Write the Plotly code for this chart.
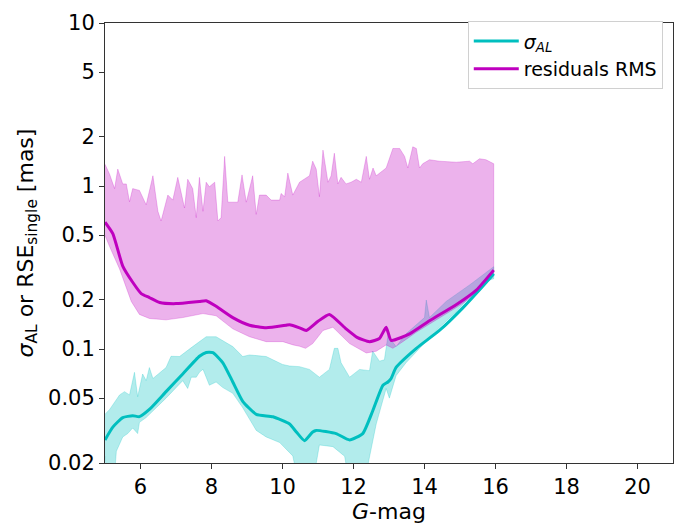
import plotly.graph_objects as go
import numpy as np

# residuals RMS (magenta) median line
res_x = [5.0, 5.22, 5.5, 5.78, 6.02, 6.25, 6.54, 7.0, 7.66, 7.85, 8.13, 8.6, 9.07, 9.54, 10.1, 10.2,
         10.48, 10.67, 11.0, 11.32, 11.79, 12.1, 12.45, 12.73, 12.92, 13.06, 13.58, 14.14, 14.89, 15.46, 15.95]
res_y = [0.60, 0.51, 0.323, 0.257, 0.219, 0.207, 0.193, 0.19, 0.196, 0.198, 0.183, 0.156, 0.14, 0.135, 0.14, 0.141,
         0.135, 0.13, 0.148, 0.163, 0.133, 0.118, 0.111, 0.116, 0.136, 0.113, 0.124, 0.149, 0.187, 0.23, 0.305]

# residuals RMS band upper
res_up_x = [5.0, 5.13, 5.27, 5.36, 5.5, 5.6, 5.69, 5.78, 5.97, 6.16, 6.35, 6.49, 6.58, 6.77, 6.91, 7.05, 7.24,
            7.33, 7.47, 7.57, 7.66, 7.76, 7.85, 7.94, 8.09, 8.18, 8.27, 8.37, 8.46, 8.74, 8.86, 8.98, 9.16,
            9.26, 9.35, 9.54, 9.68, 9.92, 9.96, 10.06, 10.15, 10.29, 10.48, 10.62, 10.76, 10.85, 10.95,
            11.04, 11.14, 11.28, 11.37, 11.46, 11.56, 11.65, 11.79, 11.93, 12.08, 12.22, 12.36, 12.45,
            12.55, 12.64, 12.92, 13.11, 13.3, 13.44, 13.53, 13.67, 13.77, 13.86, 13.95, 14.14, 14.42,
            14.89, 15.27, 15.36, 15.55, 15.73, 15.95]
res_up_y = [1.36, 1.18, 0.964, 1.27, 1.03, 1.03, 0.80, 0.964, 0.94, 0.767, 1.156, 0.70, 0.61, 0.88, 0.82, 1.13, 0.733,
            1.10, 0.964, 0.64, 1.13, 0.70, 1.055, 0.99, 1.055, 0.61, 0.64, 1.52, 0.796, 0.796, 1.17, 0.796, 1.156,
            0.67, 0.88, 0.88, 0.82, 0.82, 0.90, 0.86, 1.2, 0.88, 1.055, 1.10, 1.156, 1.42, 1.27,
            0.86, 1.66, 1.055, 1.156, 1.59, 1.03, 1.13, 1.03, 1.055, 1.10, 1.055, 1.52, 1.10,
            1.29, 1.156, 1.29, 1.70, 1.70, 1.52, 1.29, 1.74, 1.70, 1.29, 1.37, 1.45, 1.42,
            1.40, 1.42, 1.37, 1.47, 1.45, 1.37]

# residuals RMS band lower
res_lo_x = [5.0, 5.13, 5.41, 5.74, 5.97, 6.25, 6.72, 7.19, 7.76, 8.13, 8.6, 9.07, 9.54, 10.01, 10.3, 10.48,
            10.65, 10.85, 11.14, 11.42, 11.89, 12.36, 12.64, 12.92, 13.11, 13.39, 13.77, 14.2, 14.9, 15.5, 15.95]
res_lo_y = [0.498, 0.425, 0.31, 0.196, 0.163, 0.154, 0.151, 0.156, 0.165, 0.16, 0.133, 0.119, 0.111, 0.111, 0.106, 0.104,
            0.101, 0.108, 0.13, 0.136, 0.108, 0.0946, 0.097, 0.106, 0.101, 0.111, 0.127, 0.145, 0.18, 0.22, 0.282]

# sigma_AL (cyan) median line
sig_x = [5.0, 5.22, 5.5, 5.78, 5.97, 6.25, 6.72, 7.19, 7.66, 7.85, 8.04, 8.32, 8.6, 8.88, 9.26, 9.73, 10.2,
         10.39, 10.62, 10.85, 10.95, 11.51, 11.89, 12.26, 12.54, 12.83, 12.97, 13.06, 13.2, 13.77, 14.42,
         15.08, 15.74, 15.95]
sig_y = [0.0277, 0.0332, 0.038, 0.039, 0.0385, 0.0426, 0.0548, 0.0703, 0.0903, 0.0953, 0.095, 0.0824, 0.0628,
         0.0478, 0.0398, 0.0384, 0.0347, 0.031, 0.0274, 0.031, 0.0317, 0.0303, 0.0277, 0.0303, 0.0417, 0.06,
         0.0628, 0.066, 0.0771, 0.101, 0.13, 0.179, 0.257, 0.29]

# sigma_AL band upper
sig_up_x = [5.0, 5.13, 5.41, 5.55, 5.69, 5.83, 5.92, 6.06, 6.16, 6.25, 6.35, 6.72, 6.86, 7.1, 7.47, 7.85, 8.13,
            8.6, 8.88, 9.07, 9.54, 10.0, 10.2, 10.48, 10.76, 11.04, 11.32, 11.46, 11.56, 11.65, 11.89, 12.17,
            12.45, 12.54, 12.73, 12.87, 12.97, 13.2, 13.48, 13.77, 14.0, 14.05, 14.14, 14.61, 15.3, 15.95]
sig_up_y = [0.0398, 0.0426, 0.0523, 0.0548, 0.0523, 0.072, 0.051, 0.0703, 0.064, 0.077, 0.066, 0.077, 0.0903,
            0.09, 0.1035, 0.119, 0.119, 0.1035, 0.09, 0.092, 0.09, 0.0805, 0.0787, 0.078, 0.075, 0.0672, 0.075,
            0.101, 0.101, 0.0824, 0.0672, 0.075, 0.0737, 0.0972, 0.0843, 0.0859, 0.121, 0.1035, 0.124, 0.142,
            0.156, 0.2, 0.156, 0.196, 0.25, 0.32]

# sigma_AL band lower
sig_lo_x = [5.0, 5.08, 5.25, 5.32, 5.5, 5.64, 5.78, 5.92, 5.97, 6.16, 6.72, 7.19, 7.33, 7.43, 7.57, 7.66, 7.76,
            7.94, 8.13, 8.32, 8.6, 8.88, 9.26, 9.54, 9.92, 10.29, 10.45, 10.85, 11.04, 11.42, 11.75, 11.88,
            12.3, 12.64, 12.92, 13.01, 13.2, 13.48, 13.95, 14.42, 14.89, 15.64, 15.95]
sig_lo_y = [0.022, 0.015, 0.015, 0.0236, 0.0289, 0.0303, 0.0328, 0.0303, 0.0355, 0.038, 0.05, 0.064, 0.0573,
            0.0672, 0.0672, 0.072, 0.0752, 0.06, 0.0628, 0.058, 0.0535, 0.0436, 0.0317, 0.0289, 0.0267, 0.0221,
            0.015, 0.015, 0.0258, 0.0252, 0.022, 0.015, 0.015, 0.0347, 0.0573, 0.05, 0.0687, 0.0824, 0.106,
            0.136, 0.169, 0.257, 0.27]

y_ticks = [0.02, 0.05, 0.1, 0.2, 0.5, 1, 2, 5, 10]
y_tick_text = ["0.02", "0.05", "0.1", "0.2", "0.5", "1", "2", "5", "10"]
x_ticks = [6, 8, 10, 12, 14, 16, 18, 20]

CYAN = "#00BFBF"
MAG = "#BF00BF"
CYAN_FILL = "rgba(0,191,191,0.3)"
MAG_FILL = "rgba(191,0,191,0.3)"

fig = go.Figure()

def band(xu, yu, xl, yl, fill):
    return go.Scatter(x=list(xu) + list(xl)[::-1], y=list(yu) + list(yl)[::-1],
                      mode="lines", fill="toself", fillcolor=fill,
                      line=dict(color=fill, width=0.8), showlegend=False, hoverinfo="skip")

fig.add_trace(band(sig_up_x, sig_up_y, sig_lo_x, sig_lo_y, CYAN_FILL))
fig.add_trace(band(res_up_x, res_up_y, res_lo_x, res_lo_y, MAG_FILL))
fig.add_trace(go.Scatter(x=sig_x, y=sig_y, mode="lines", name="<i>σ<sub>AL</sub></i>",
                         line=dict(color=CYAN, width=3, shape="spline", smoothing=0.5)))
fig.add_trace(go.Scatter(x=res_x, y=res_y, mode="lines", name="residuals RMS",
                         line=dict(color=MAG, width=3, shape="spline", smoothing=0.5)))

axis_common = dict(showline=True, linecolor="#333333", linewidth=1, mirror=True,
                   ticks="outside", ticklen=5, tickcolor="#333333", showgrid=False, zeroline=False,
                   tickfont=dict(size=21, color="black"))

fig.update_layout(
    width=688, height=530,
    margin=dict(l=105, r=15, t=11, b=63),
    paper_bgcolor="white", plot_bgcolor="white",
    font=dict(family="DejaVu Sans", color="black"),
    xaxis=dict(range=[5, 21], tickvals=x_ticks,
               title=dict(text="<i>G</i>-mag", font=dict(size=22), standoff=4), **axis_common),
    yaxis=dict(type="log", range=[np.log10(0.02), 1], tickvals=y_ticks, ticktext=y_tick_text,
               title=dict(text="<i>σ</i><sub>AL</sub> or RSE<sub>single</sub> [mas]", font=dict(size=22), standoff=8),
               **axis_common),
    legend=dict(x=0.982, y=1.004, xanchor="right", yanchor="top", bgcolor="white",
                bordercolor="#d0d0d0", borderwidth=1, font=dict(size=19), itemwidth=45),
)

fig.write_html("out.html")
